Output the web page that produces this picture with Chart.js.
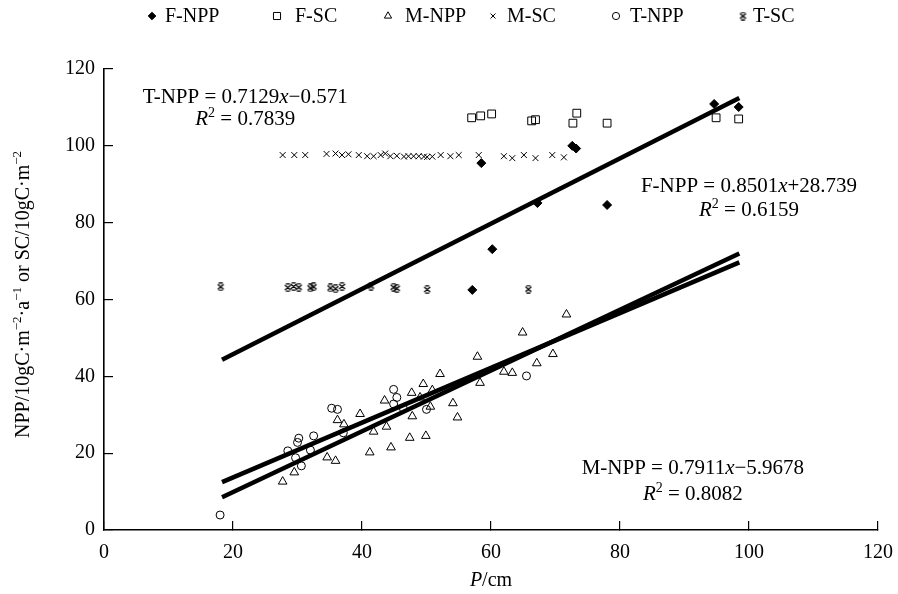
<!DOCTYPE html>
<html>
<head>
<meta charset="utf-8">
<script src="https://cdn.jsdelivr.net/npm/chart.js@4.4.1/dist/chart.umd.min.js"></script>
<style>
  html, body { margin: 0; padding: 0; background: #fff; }
</style>
</head>
<body>
<canvas id="npp-sc" width="898" height="594"></canvas>
<script>
// P (cm) vs NPP / SC for the three vegetation types
const fNppP = [57.1, 58.5, 60.2, 67.2, 72.6, 73.2, 78.0, 94.6, 98.4];
const fNppV = [62.5, 95.5, 73.1, 85.1, 100.0, 99.3, 84.6, 110.9, 110.1];

const fScP = [57.0, 58.4, 60.1, 66.3, 66.9, 72.7, 73.3, 78.0, 94.9, 98.4];
const fScV = [107.3, 107.8, 108.3, 106.5, 106.8, 105.9, 108.5, 105.9, 107.3, 107.0];

const mNppP = [27.7, 29.5, 34.6, 35.9, 36.2, 37.2, 39.7, 41.2, 41.8, 43.5, 43.8, 44.5, 47.4, 47.7, 47.8, 49.0,
  49.5, 49.9, 50.6, 50.9, 52.1, 54.1, 54.8, 57.9, 58.3, 62.0, 63.3, 64.9, 67.1, 69.6, 71.7];
const mNppV = [12.6, 15.0, 18.9, 18.0, 28.6, 27.5, 30.2, 20.2, 25.6, 33.7, 26.9, 21.5, 24.0, 35.7, 29.6, 34.5,
  38.0, 24.5, 32.1, 36.4, 40.6, 33.0, 29.3, 45.1, 38.3, 41.2, 40.9, 51.4, 43.4, 45.8, 56.1];

const mScP = [27.7, 29.5, 31.2, 34.5, 35.9, 36.9, 37.9, 39.5, 40.8, 41.8, 42.9, 43.6, 44.4, 45.4, 46.5, 47.2,
  48.0, 48.8, 49.6, 50.1, 50.9, 52.2, 53.7, 55.0, 58.1, 62.0, 63.3, 65.1, 66.9, 69.5, 71.3];
const mScV = [97.6, 97.6, 97.6, 97.9, 98.0, 97.6, 97.8, 97.6, 97.3, 97.3, 97.6, 98.0, 97.3, 97.4, 97.2, 97.3,
  97.3, 97.3, 97.2, 97.1, 97.2, 97.6, 97.3, 97.6, 97.6, 97.3, 96.8, 97.6, 96.8, 97.6, 97.0];

const tNppP = [18.0, 28.5, 29.7, 30.0, 30.2, 30.6, 32.0, 32.5, 35.3, 36.2, 37.1, 44.9, 45.4, 44.9, 46.4, 50.0, 65.5];
const tNppV = [3.9, 20.6, 18.8, 22.8, 23.9, 16.7, 20.8, 24.5, 31.7, 31.4, 25.3, 36.6, 34.5, 32.8, 31.7, 31.4, 40.1];

const tScP = [18.1, 28.5, 29.4, 30.2, 32.0, 32.5, 35.1, 35.9, 36.9, 41.4, 44.9, 45.4, 50.1, 65.8];
const tScV = [63.3, 63.1, 63.4, 63.2, 63.0, 63.3, 63.0, 62.8, 63.4, 63.5, 63.2, 62.9, 62.6, 62.7];

// linear fits
const fitNames = ['T-NPP', 'F-NPP', 'M-NPP'];
const fitSlope = [0.7129, 0.8501, 0.7911];
const fitIntercept = [-0.571, 28.739, -5.9678];
const fitR2 = [0.7839, 0.6159, 0.8082];
const fitRange = [18.3, 98.5];

// where the equations sit (data units)
const eqLabelX = [21.9, 100.0, 91.3];
const eqLabelY = [111.1, 88.0, 14.6];
const r2LabelY = [105.4, 81.7, 7.8];

const serif = "'Liberation Serif', 'Times New Roman', serif";

function pts(xs, ys) {
  return xs.map((v, i) => ({x: v, y: ys[i]}));
}

// small x with bars top and bottom, used for T-SC
function tScMarker(size) {
  const c = document.createElement('canvas');
  c.width = size; c.height = size;
  const g = c.getContext('2d');
  g.strokeStyle = '#000';
  g.lineWidth = 1.3;
  g.beginPath();
  g.moveTo(1.5, 2); g.lineTo(size - 1.5, size - 2);
  g.moveTo(size - 1.5, 2); g.lineTo(1.5, size - 2);
  g.moveTo(2.5, 0.8); g.lineTo(size - 2.5, 0.8);
  g.moveTo(2.5, size - 0.8); g.lineTo(size - 2.5, size - 0.8);
  g.stroke();
  return c;
}

function scatterSet(label, data, style, radius, filled) {
  return {
    label: label,
    data: data,
    pointStyle: style,
    pointRadius: radius,
    pointBorderWidth: 1,
    borderColor: '#000',
    backgroundColor: filled ? '#000' : 'rgba(0,0,0,0)',
    order: 1
  };
}

function fitSet(i) {
  return {
    label: fitNames[i] + ' fit',
    data: fitRange.map(p => ({x: p, y: fitSlope[i] * p + fitIntercept[i]})),
    showLine: true,
    pointRadius: 0,
    borderColor: '#000',
    borderWidth: 4.5,
    order: 0
  };
}

// text runs: [text, style] with style '' | 'i' | 'sup'
function richText(ctx, parts, x, y, size) {
  const fontFor = s => (s === 'i' ? 'italic ' : '') + (s === 'sup' ? Math.round(size * 0.65) : size) + 'px ' + serif;
  let w = 0;
  parts.forEach(([t, s]) => { ctx.font = fontFor(s); w += ctx.measureText(t).width; });
  let cx = x - w / 2;
  ctx.textAlign = 'left';
  ctx.textBaseline = 'alphabetic';
  parts.forEach(([t, s]) => {
    ctx.font = fontFor(s);
    ctx.fillText(t, cx, s === 'sup' ? y - size * 0.4 : y);
    cx += ctx.measureText(t).width;
  });
}

const legendMarkX = [152, 277, 388, 493, 616, 743];
const legendTextX = [165, 295, 405, 507, 630, 753];
const legendRadius = [3.8, 5, 4.2, 3.5, 3.6, 0];

const annotate = {
  id: 'annotate',
  afterDraw(chart) {
    const {ctx, chartArea, scales: {x, y}} = chart;
    ctx.save();
    ctx.fillStyle = '#000';

    fitNames.forEach((name, i) => {
      const sign = fitIntercept[i] < 0 ? '\u2212' : '+';
      const px = x.getPixelForValue(eqLabelX[i]);
      richText(ctx, [[name + ' = ' + fitSlope[i]], ['x', 'i'], [sign + Math.abs(fitIntercept[i])]],
        px, y.getPixelForValue(eqLabelY[i]), 21);
      richText(ctx, [['R', 'i'], ['2', 'sup'], [' = ' + fitR2[i]]],
        px, y.getPixelForValue(r2LabelY[i]), 21);
    });

    richText(ctx, [['P', 'i'], ['/cm']], (chartArea.left + chartArea.right) / 2, 586, 20);

    // legend row
    chart.data.datasets.slice(0, 6).forEach((ds, i) => {
      ctx.fillStyle = ds.backgroundColor;
      ctx.strokeStyle = '#000';
      ctx.lineWidth = 1;
      Chart.helpers.drawPoint(ctx, {pointStyle: ds.pointStyle, radius: legendRadius[i], borderWidth: 1, rotation: 0},
        legendMarkX[i], 16);
      ctx.fillStyle = '#000';
      ctx.font = '20px ' + serif;
      ctx.textAlign = 'left';
      ctx.textBaseline = 'middle';
      ctx.fillText(ds.label, legendTextX[i], 17);
    });

    ctx.translate(29, (chartArea.top + chartArea.bottom) / 2 - 5);
    ctx.rotate(-Math.PI / 2);
    ctx.fillStyle = '#000';
    richText(ctx, [['NPP/10gC\u00b7m'], ['\u22122', 'sup'], ['\u00b7a'], ['\u22121', 'sup'],
      [' or SC/10gC\u00b7m'], ['\u22122', 'sup']], 0, 0, 20);
    ctx.restore();
  }
};

const tickFont = {family: serif, size: 20};

new Chart(document.getElementById('npp-sc'), {
  type: 'scatter',
  data: {
    datasets: [
      scatterSet('F-NPP', pts(fNppP, fNppV), 'rectRot', 4.5, true),
      scatterSet('F-SC', pts(fScP, fScV), 'rect', 5.5, false),
      scatterSet('M-NPP', pts(mNppP, mNppV), 'triangle', 5, false),
      scatterSet('M-SC', pts(mScP, mScV), 'crossRot', 4.2, false),
      scatterSet('T-NPP', pts(tNppP, tNppV), 'circle', 4, false),
      scatterSet('T-SC', pts(tScP, tScV), tScMarker(9), 4, false),
      fitSet(0),
      fitSet(1),
      fitSet(2)
    ]
  },
  options: {
    responsive: false,
    animation: false,
    layout: {padding: {top: 69, right: 20, bottom: 0, left: 0}},
    plugins: {
      legend: {display: false},
      tooltip: {enabled: false}
    },
    scales: {
      x: {
        type: 'linear',
        min: 0,
        max: 120,
        ticks: {stepSize: 20, color: '#000', font: tickFont, padding: 20},
        grid: {drawOnChartArea: false, tickLength: -9, color: '#000', lineWidth: 1.2},
        border: {color: '#000', width: 1.6},
        afterFit(s) { s.height = 64; s.paddingLeft = 0; s.paddingRight = 0; }
      },
      y: {
        min: 0,
        max: 120,
        ticks: {stepSize: 20, color: '#000', font: tickFont, padding: 18},
        grid: {drawOnChartArea: false, tickLength: -9, color: '#000', lineWidth: 1.2},
        border: {color: '#000', width: 1.6},
        afterFit(s) { s.width = 104; s.paddingTop = 0; s.paddingBottom = 0; }
      }
    }
  },
  plugins: [annotate]
});
</script>
</body>
</html>
